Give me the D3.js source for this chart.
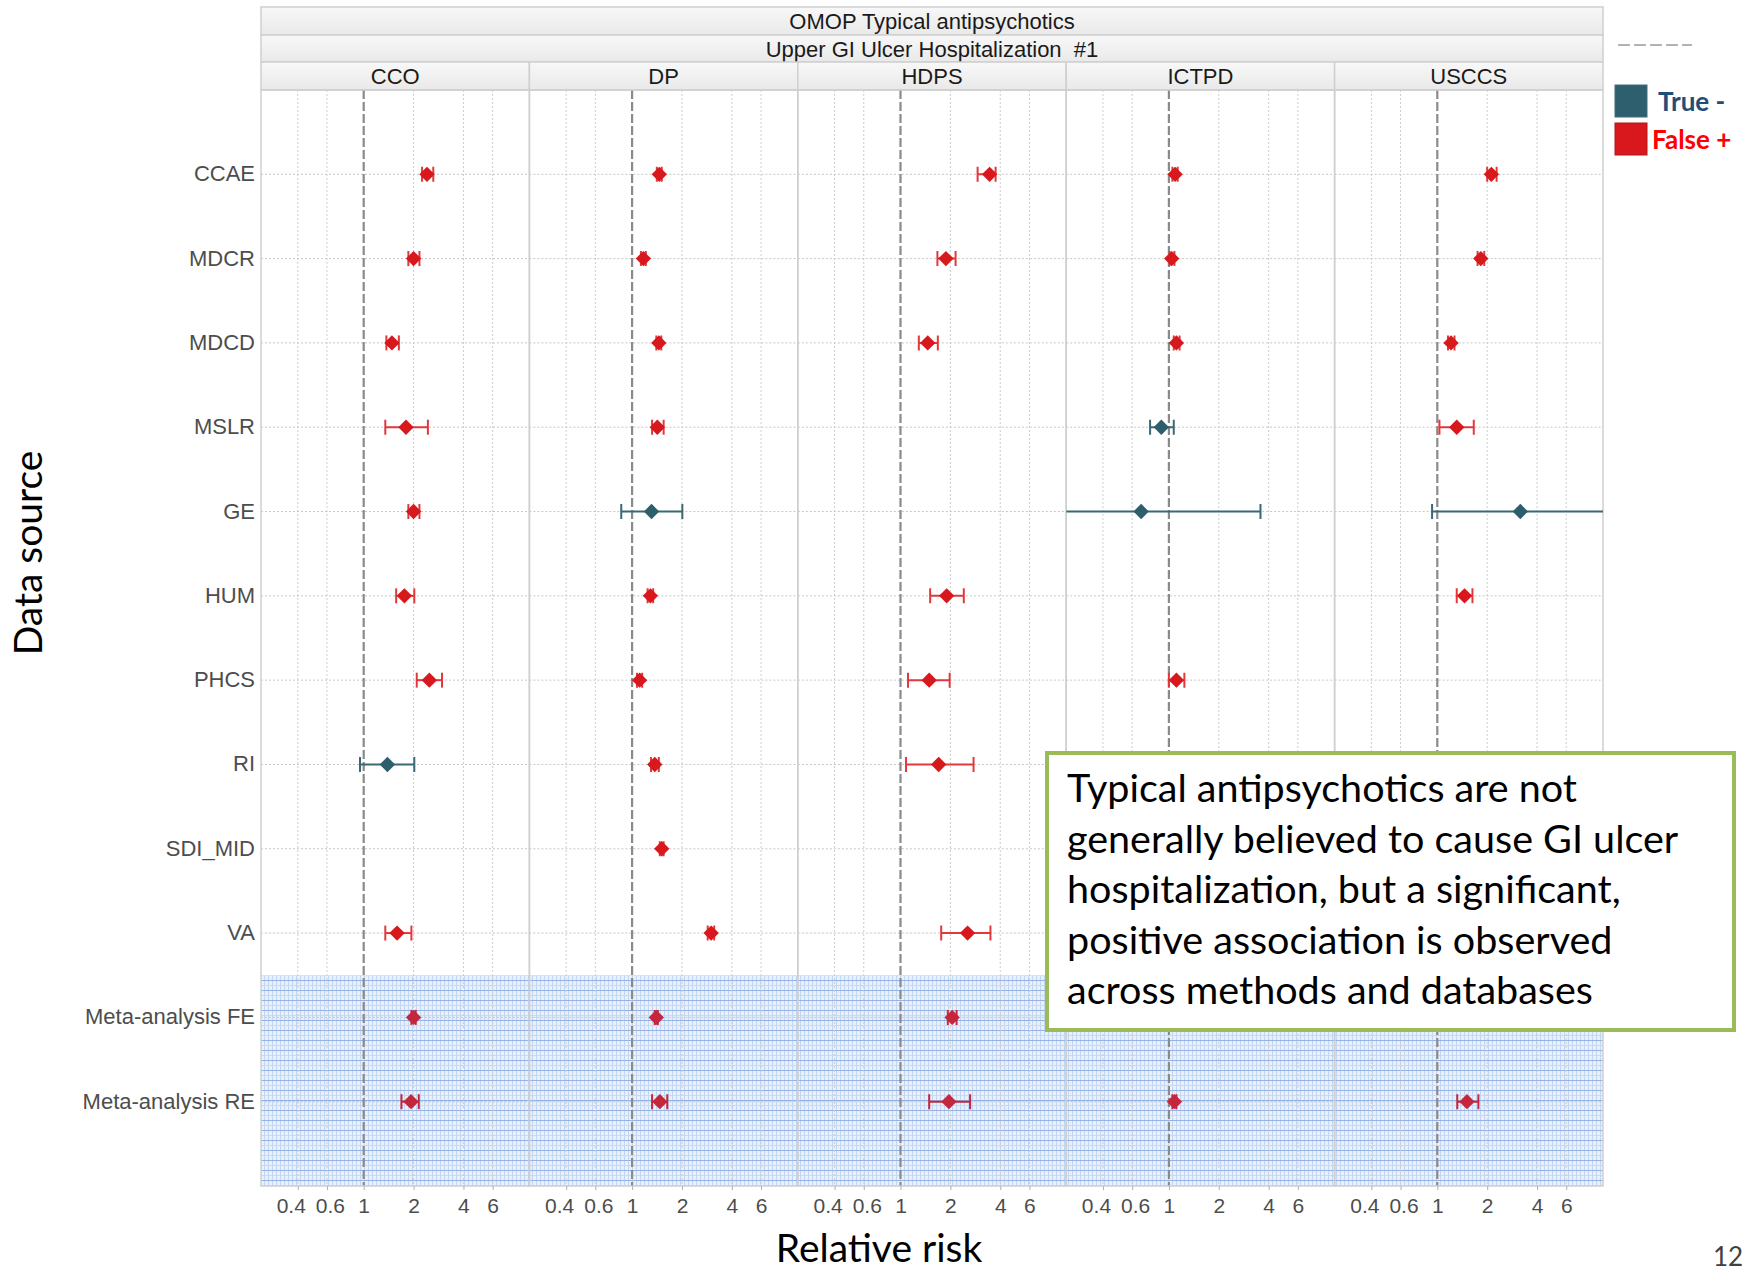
<!DOCTYPE html>
<html>
<head>
<meta charset="utf-8">
<script src="https://cdn.jsdelivr.net/npm/d3@7"></script>
<style>
  body { margin: 0; background: #fff; }
  svg { display: block; }
  .strip-text { font-family: "Liberation Sans", Arial, sans-serif; font-size: 22px; fill: #1a1a1a; }
  .row-label { font-family: "Liberation Sans", Arial, sans-serif; font-size: 22px; fill: #4d4d4d; }
  .tick text { font-family: "Liberation Sans", Arial, sans-serif; font-size: 21px; fill: #4d4d4d; }
  .title { font-family: Lato, "Open Sans", sans-serif; font-size: 39px; fill: #000; }
  .note { font-family: Lato, "Open Sans", sans-serif; font-size: 39.5px; fill: #000; }
</style>
</head>
<body>
<script>
// categories
const methods = ['CCO', 'DP', 'HDPS', 'ICTPD', 'USCCS'];
const sources = ['CCAE', 'MDCR', 'MDCD', 'MSLR', 'GE', 'HUM', 'PHCS', 'RI', 'SDI_MID', 'VA',
                 'Meta-analysis FE', 'Meta-analysis RE'];
const xTicks = [0.4, 0.6, 1, 2, 4, 6];

// estimates: [source, RR, lower CI, upper CI, ground truth]  TN = true negative, FP = false positive
const cco = [
    ['CCAE', 2.41, 2.25, 2.63, 'FP'],
    ['MDCR', 2.00, 1.86, 2.17, 'FP'],
    ['MDCD', 1.48, 1.37, 1.63, 'FP'],
    ['MSLR', 1.80, 1.35, 2.44, 'FP'],
    ['GE', 2.00, 1.86, 2.17, 'FP'],
    ['HUM', 1.76, 1.57, 2.02, 'FP'],
    ['PHCS', 2.49, 2.09, 2.97, 'FP'],
    ['RI', 1.39, 0.95, 2.02, 'TN'],
    ['VA', 1.59, 1.35, 1.94, 'FP'],
    ['Meta-analysis FE', 2.00, 1.94, 2.06, 'FP'],
    ['Meta-analysis RE', 1.93, 1.69, 2.15, 'FP']
];
const dp = [
    ['CCAE', 1.46, 1.41, 1.51, 'FP'],
    ['MDCR', 1.17, 1.13, 1.21, 'FP'],
    ['MDCD', 1.45, 1.40, 1.50, 'FP'],
    ['MSLR', 1.42, 1.32, 1.55, 'FP'],
    ['GE', 1.31, 0.86, 2.01, 'TN'],
    ['HUM', 1.29, 1.24, 1.34, 'FP'],
    ['PHCS', 1.11, 1.07, 1.15, 'FP'],
    ['RI', 1.37, 1.30, 1.45, 'FP'],
    ['SDI_MID', 1.51, 1.47, 1.55, 'FP'],
    ['VA', 3.00, 2.86, 3.13, 'FP'],
    ['Meta-analysis FE', 1.40, 1.37, 1.43, 'FP'],
    ['Meta-analysis RE', 1.47, 1.32, 1.63, 'FP']
];
const hdps = [
    ['CCAE', 3.45, 2.92, 3.75, 'FP'],
    ['MDCR', 1.88, 1.67, 2.15, 'FP'],
    ['MDCD', 1.46, 1.29, 1.68, 'FP'],
    ['HUM', 1.90, 1.51, 2.41, 'FP'],
    ['PHCS', 1.49, 1.11, 1.98, 'FP'],
    ['RI', 1.70, 1.08, 2.76, 'FP'],
    ['VA', 2.54, 1.76, 3.49, 'FP'],
    ['Meta-analysis FE', 2.05, 1.93, 2.18, 'FP'],
    ['Meta-analysis RE', 1.96, 1.49, 2.63, 'FP']
];
const ictpd = [
    ['CCAE', 1.09, 1.05, 1.13, 'FP'],
    ['MDCR', 1.04, 1.01, 1.08, 'FP'],
    ['MDCD', 1.11, 1.07, 1.16, 'FP'],
    ['MSLR', 0.90, 0.77, 1.07, 'TN'],
    ['GE', 0.68, 0.20, 3.57, 'TN'],
    ['PHCS', 1.11, 1.00, 1.24, 'FP'],
    ['Meta-analysis RE', 1.08, 1.05, 1.11, 'FP']
];
const usccs = [
    ['CCAE', 2.12, 2.00, 2.28, 'FP'],
    ['MDCR', 1.83, 1.75, 1.92, 'FP'],
    ['MDCD', 1.21, 1.16, 1.27, 'FP'],
    ['MSLR', 1.31, 1.03, 1.66, 'FP'],
    ['GE', 3.17, 0.93, 15, 'TN'],
    ['HUM', 1.46, 1.31, 1.63, 'FP'],
    ['Meta-analysis RE', 1.51, 1.32, 1.77, 'FP']
];
const estimates = { CCO: cco, DP: dp, HDPS: hdps, ICTPD: ictpd, USCCS: usccs };

const noteLines = ['Typical antipsychotics are not', 'generally believed to cause GI ulcer',
                   'hospitalization, but a significant,', 'positive association is observed',
                   'across methods and databases'];

const width = 1744, height = 1274;
const plot = { left: 261, right: 1603, top: 90, bottom: 1186 };
const stripRows = [7, 35, 62, 90];

const colors = { TN: '#2d5e6c', FP: '#d7181d' };
const barColors = { TN: '#3a6877', FP: '#e2383c' };
const metaColor = '#c4263d';

const svg = d3.select('body').append('svg')
    .attr('width', width)
    .attr('height', height);

// pattern for the meta-analysis band
const defs = svg.append('defs');
const pat = defs.append('pattern')
    .attr('id', 'meta-band')
    .attr('patternUnits', 'userSpaceOnUse')
    .attr('width', 4).attr('height', 10);
pat.append('rect').attr('width', 4).attr('height', 10).attr('fill', '#e9f0fb');
pat.append('line').attr('x1', 0.5).attr('x2', 0.5).attr('y1', 0).attr('y2', 10)
    .attr('stroke', '#c2d5f1').attr('stroke-width', 1);
pat.append('line').attr('x1', 0).attr('x2', 4).attr('y1', 0.5).attr('y2', 0.5)
    .attr('stroke', '#93b3e4').attr('stroke-width', 1);
pat.append('line').attr('x1', 0).attr('x2', 4).attr('y1', 5.5).attr('y2', 5.5)
    .attr('stroke', '#c8daf3').attr('stroke-width', 1);

// Scales
const fx = d3.scaleBand().domain(methods).range([plot.left, plot.right]).padding(0);
const x = d3.scaleLog().domain([0.24, 10]).range([0, fx.bandwidth()]);
const y = d3.scalePoint().domain(sources).range([plot.top, plot.bottom]).padding(1);

// Strips
const stripFill = defs.append('linearGradient').attr('id', 'strip').attr('x1', 0).attr('x2', 0).attr('y1', 0).attr('y2', 1);
stripFill.append('stop').attr('offset', '0%').attr('stop-color', '#f8f8f8');
stripFill.append('stop').attr('offset', '100%').attr('stop-color', '#e9e9e9');

const strips = svg.append('g');
[['OMOP Typical antipsychotics', 0], ['Upper GI Ulcer Hospitalization  #1', 1]].forEach(([label, i]) => {
    strips.append('rect')
        .attr('x', plot.left).attr('y', stripRows[i])
        .attr('width', plot.right - plot.left).attr('height', stripRows[i + 1] - stripRows[i])
        .attr('fill', 'url(#strip)').attr('stroke', '#cfcfcf').attr('stroke-width', 1.5);
    strips.append('text').attr('class', 'strip-text')
        .attr('x', (plot.left + plot.right) / 2)
        .attr('y', (stripRows[i] + stripRows[i + 1]) / 2 + 8)
        .attr('text-anchor', 'middle')
        .style('white-space', 'pre')
        .text(label);
});
methods.forEach(m => {
    strips.append('rect')
        .attr('x', fx(m)).attr('y', stripRows[2])
        .attr('width', fx.bandwidth()).attr('height', stripRows[3] - stripRows[2])
        .attr('fill', 'url(#strip)').attr('stroke', '#cfcfcf').attr('stroke-width', 1.5);
    strips.append('text').attr('class', 'strip-text')
        .attr('x', fx(m) + fx.bandwidth() / 2)
        .attr('y', (stripRows[2] + stripRows[3]) / 2 + 8)
        .attr('text-anchor', 'middle')
        .text(m);
});

// meta-analysis band
const bandTop = (y('VA') + y('Meta-analysis FE')) / 2;
svg.append('rect')
    .attr('x', plot.left).attr('y', bandTop)
    .attr('width', plot.right - plot.left).attr('height', plot.bottom - bandTop)
    .attr('fill', 'url(#meta-band)');

// label nudges so that 0.4 and 0.6 do not run together
const tickNudge = { 0.4: -7, 0.6: 3 };

// Panels
methods.forEach(m => {
    const g = svg.append('g').attr('transform', `translate(${fx(m)},0)`);
    const clipId = 'clip-' + m;
    defs.append('clipPath').attr('id', clipId)
        .append('rect').attr('x', fx(m)).attr('y', plot.top)
        .attr('width', fx.bandwidth()).attr('height', plot.bottom - plot.top);

    // grid
    g.selectAll('.vgrid').data(xTicks.filter(t => t !== 1)).enter().append('line')
        .attr('x1', d => x(d)).attr('x2', d => x(d))
        .attr('y1', plot.top).attr('y2', plot.bottom)
        .attr('stroke', '#cdcdcd').attr('stroke-width', 1).attr('stroke-dasharray', '2,2');
    g.selectAll('.hgrid').data(sources).enter().append('line')
        .attr('x1', 0).attr('x2', fx.bandwidth())
        .attr('y1', d => y(d)).attr('y2', d => y(d))
        .attr('stroke', '#c6c6c6').attr('stroke-width', 1).attr('stroke-dasharray', '2,2');

    // reference line at RR = 1
    g.append('line')
        .attr('x1', x(1)).attr('x2', x(1))
        .attr('y1', plot.top).attr('y2', plot.bottom)
        .attr('stroke', '#8a8a8a').attr('stroke-width', 2.2).attr('stroke-dasharray', '9,3');

    // panel border
    g.append('rect')
        .attr('x', 0).attr('y', plot.top)
        .attr('width', fx.bandwidth()).attr('height', plot.bottom - plot.top)
        .attr('fill', 'none').attr('stroke', '#cfcfcf').attr('stroke-width', 1.5);

    // axis
    const axis = g.append('g')
        .attr('transform', `translate(0,${plot.bottom})`)
        .call(d3.axisBottom(x).tickValues(xTicks).tickFormat(d3.format('~g')).tickSize(4).tickPadding(8));
    axis.select('.domain').remove();
    axis.selectAll('.tick line').attr('stroke', '#b0b0b0');
    axis.selectAll('.tick text').attr('dx', d => tickNudge[d] || 0);

    // error bars + points
    const data = estimates[m].map(([src, rr, lo, hi, truth]) => ({ src, rr, lo, hi, truth }));
    const [d0, d1] = x.domain();
    const marks = svg.append('g').attr('clip-path', `url(#${clipId})`)
        .append('g').attr('transform', `translate(${fx(m)},0)`);
    const col = d => d.src.startsWith('Meta') ? metaColor : barColors[d.truth];

    marks.selectAll('.ci').data(data).enter().append('line')
        .attr('x1', d => x(Math.max(d.lo, d0))).attr('x2', d => x(Math.min(d.hi, d1)))
        .attr('y1', d => y(d.src)).attr('y2', d => y(d.src))
        .attr('stroke', col).attr('stroke-width', 2);
    const caps = [];
    data.forEach(d => {
        if (d.lo >= d0) caps.push({ v: d.lo, d });
        if (d.hi <= d1) caps.push({ v: d.hi, d });
    });
    marks.selectAll('.cap').data(caps).enter().append('line')
        .attr('x1', c => x(c.v)).attr('x2', c => x(c.v))
        .attr('y1', c => y(c.d.src) - 7.5).attr('y2', c => y(c.d.src) + 7.5)
        .attr('stroke', c => col(c.d)).attr('stroke-width', 2);

    marks.selectAll('.pt').data(data).enter().append('path')
        .attr('d', d3.symbol(d3.symbolSquare, 118))
        .attr('transform', d => `translate(${x(d.rr)},${y(d.src)}) rotate(45)`)
        .attr('fill', d => d.src.startsWith('Meta') ? metaColor : colors[d.truth]);
});

// row labels
svg.append('g').selectAll('text').data(sources).enter().append('text')
    .attr('class', 'row-label')
    .attr('x', 255).attr('y', d => y(d) + 7)
    .attr('text-anchor', 'end')
    .text(d => d);

// axis titles
svg.append('text').attr('class', 'title')
    .attr('transform', 'translate(42,553) rotate(-90)')
    .attr('text-anchor', 'middle')
    .text('Data source');
svg.append('text').attr('class', 'title')
    .attr('x', 879).attr('y', 1262)
    .attr('text-anchor', 'middle')
    .text('Relative risk');

// legend
const legendItems = [['True -', 'TN', '#1f4e79', 1658], ['False +', 'FP', '#ff0000', 1652]];
const legend = svg.append('g');
legend.append('line')
    .attr('x1', 1618).attr('x2', 1692).attr('y1', 45).attr('y2', 45)
    .attr('stroke', '#9a9a9a').attr('stroke-width', 1.5).attr('stroke-dasharray', '12,4');
legendItems.forEach(([label, key, tc, tx], i) => {
    legend.append('rect')
        .attr('x', 1615).attr('y', 85 + i * 38)
        .attr('width', 32).attr('height', 32)
        .attr('fill', key === 'TN' ? '#2e5f6f' : '#d9181e')
        .attr('stroke', key === 'TN' ? '#3f6f7f' : '#b01518').attr('stroke-width', 1);
    legend.append('text')
        .attr('x', tx).attr('y', 111 + i * 38)
        .attr('font-family', 'Lato, "Open Sans", sans-serif')
        .attr('font-weight', 'bold').attr('font-size', 26)
        .attr('fill', tc)
        .text(label);
});

// annotation box
const note = svg.append('g');
note.append('rect')
    .attr('x', 1047).attr('y', 753)
    .attr('width', 687).attr('height', 277)
    .attr('fill', '#fff').attr('stroke', '#9bbb59').attr('stroke-width', 4);
note.selectAll('text').data(noteLines).enter().append('text')
    .attr('class', 'note')
    .attr('x', 1067).attr('y', (d, i) => 802 + i * 50.5)
    .text(d => d);

// slide number
svg.append('text')
    .attr('x', 1713).attr('y', 1266)
    .attr('font-family', 'Lato, "Open Sans", sans-serif').attr('font-size', 26)
    .attr('fill', '#404040')
    .text('12');
</script>
</body>
</html>
